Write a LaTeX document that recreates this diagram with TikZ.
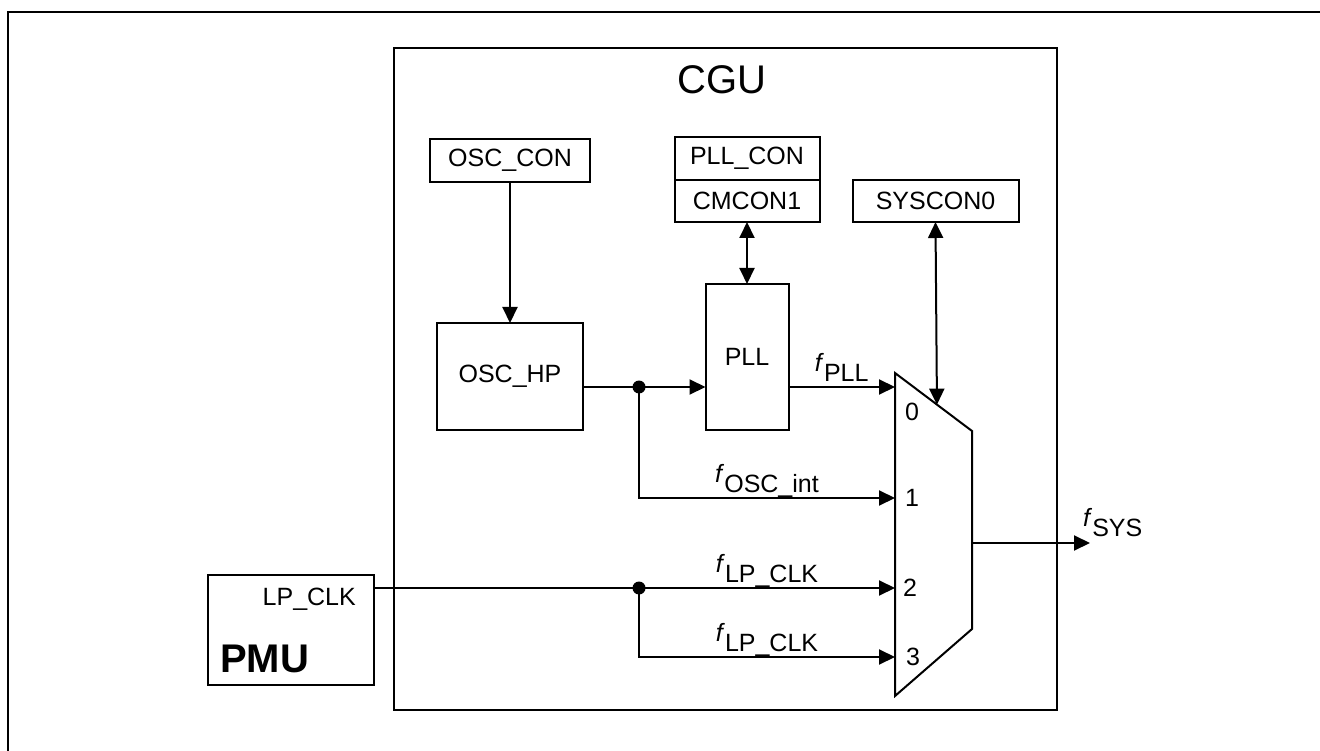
\documentclass[tikz,border=0pt]{standalone}
\usepackage{fontspec}
\setmainfont{Liberation Sans}
\usepackage{tikz}
\usetikzlibrary{positioning}
\usetikzlibrary{arrows.meta}
\usetikzlibrary{calc}
\newcommand{\regsize}{\fontsize{25}{30}\selectfont}
\newcommand{\bigsize}{\fontsize{40}{46}\selectfont}
\newcommand{\fsig}[1]{\textit{f}\raisebox{-10pt}{#1}}
\tikzset{
  box_node/.style = {draw=black, line width=2pt, inner sep=0pt, outer sep=0pt,
    align=center, font=\regsize},% bloc
  reg_node/.style = {box_node, minimum height=43pt},% registre
  sig_arrow/.style = {line width=2pt, -{Triangle[length=16pt,width=15pt]}},% signal
  ctl_arrow/.style = {line width=2pt,
    {Triangle[length=16pt,width=15pt]}-{Triangle[length=16pt,width=15pt]}},% controle
  sig_label/.style = {font=\regsize, inner sep=0pt, anchor=base, yshift=16pt},
  dot_node/.style = {circle, fill=black, inner sep=0pt, minimum size=13pt},
  mux_label/.style = {font=\regsize, inner sep=0pt, anchor=west}
}
\begin{document}
\begin{tikzpicture}[x=1pt, y=-1pt]
  \useasboundingbox (0,0) rectangle (1320,751);
  \draw[line width=2pt] (1320,12) -- (8,12) -- (8,751);
  % CGU
  \node[box_node, minimum width=663pt, minimum height=662pt] (cgu) at (725.5,379) {};
  \node[font=\bigsize, inner sep=0pt, anchor=base] (cgu_title) at (722,94) {CGU};
  \node[reg_node, minimum width=160pt] (osccon) at (510,160.5) {OSC\_CON};
  \node[reg_node, minimum width=145pt] (pllcon) at (747,158.5) {PLL\_CON};
  \node[reg_node, minimum width=145pt, minimum height=42pt, below=0pt of pllcon] (cmcon) {CMCON1};
  \node[reg_node, minimum width=166pt, minimum height=42pt, right=33pt of cmcon] (syscon) {SYSCON0};
  \node[box_node, minimum width=146pt, minimum height=107pt, below=141pt of osccon] (oschp) {OSC\_HP};
  \node[box_node, minimum width=83pt, minimum height=146pt, below=62pt of cmcon] (pll) {PLL};
  % PMU
  \node[box_node, minimum width=166pt, minimum height=110pt] (pmu) at (291,630) {};
  \node[font=\regsize, inner sep=0pt, anchor=base east] (lpclk) at (356,605) {LP\_CLK};
  \node[font=\bigsize\bfseries, inner sep=0pt, anchor=base west] (pmu_title) at (220,672) {PMU};
  % multiplexeur
  \coordinate (mux_tl) at (895,373);
  \coordinate (mux_tr) at (972,431);
  \coordinate (mux_br) at (972,629);
  \coordinate (mux_bl) at (895,696);
  \draw[line width=2pt] (mux_tl) -- (mux_tr) -- (mux_br) -- (mux_bl) -- cycle;
  \coordinate (in0) at (895,387);
  \coordinate (in1) at (895,498);
  \coordinate (in2) at (895,588);
  \coordinate (in3) at (895,657);
  \coordinate (mux_out) at (972,543);
  \coordinate (fsys) at (1090,543);
  \coordinate (sel) at ($(mux_tl)!0.545!(mux_tr)$);
  \node[mux_label] (d0) at (905,412) {0};
  \node[mux_label] (d1) at (905,498) {1};
  \node[mux_label] (d2) at (903,588) {2};
  \node[mux_label] (d3) at (906,657) {3};
  % liaisons
  \draw[sig_arrow] (osccon.south) -- (oschp.north);
  \draw[ctl_arrow] (cmcon.south) -- (pll.north);
  \draw[ctl_arrow] (syscon.south) -- (sel);
  \coordinate (j1) at (639,387);
  \coordinate (j2) at (639,588);
  \draw[line width=2pt] (oschp.east |- j1) -- (j1);
  \draw[sig_arrow] (j1) -- (pll.west |- j1);
  \draw[sig_arrow] (pll.east |- in0) -- node[sig_label, midway] {\fsig{PLL}} (in0);
  \draw[sig_arrow] (j1) |- node[sig_label, pos=0.75] {\fsig{OSC\_int}} (in1);
  \draw[line width=2pt] (pmu.east |- in2) -- (j2);
  \draw[sig_arrow] (j2) -- node[sig_label, midway] {\fsig{LP\_CLK}} (in2);
  \draw[sig_arrow] (j2) |- node[sig_label, pos=0.75] {\fsig{LP\_CLK}} (in3);
  \draw[sig_arrow] (mux_out) -- (fsys);
  \node[font=\regsize, inner sep=0pt, anchor=base west] (fsys_label)
    at ([xshift=-7pt, yshift=17pt]fsys) {\fsig{SYS}};
  \node[dot_node] (dot1) at (j1) {};
  \node[dot_node] (dot2) at (j2) {};
\end{tikzpicture}
\end{document}
